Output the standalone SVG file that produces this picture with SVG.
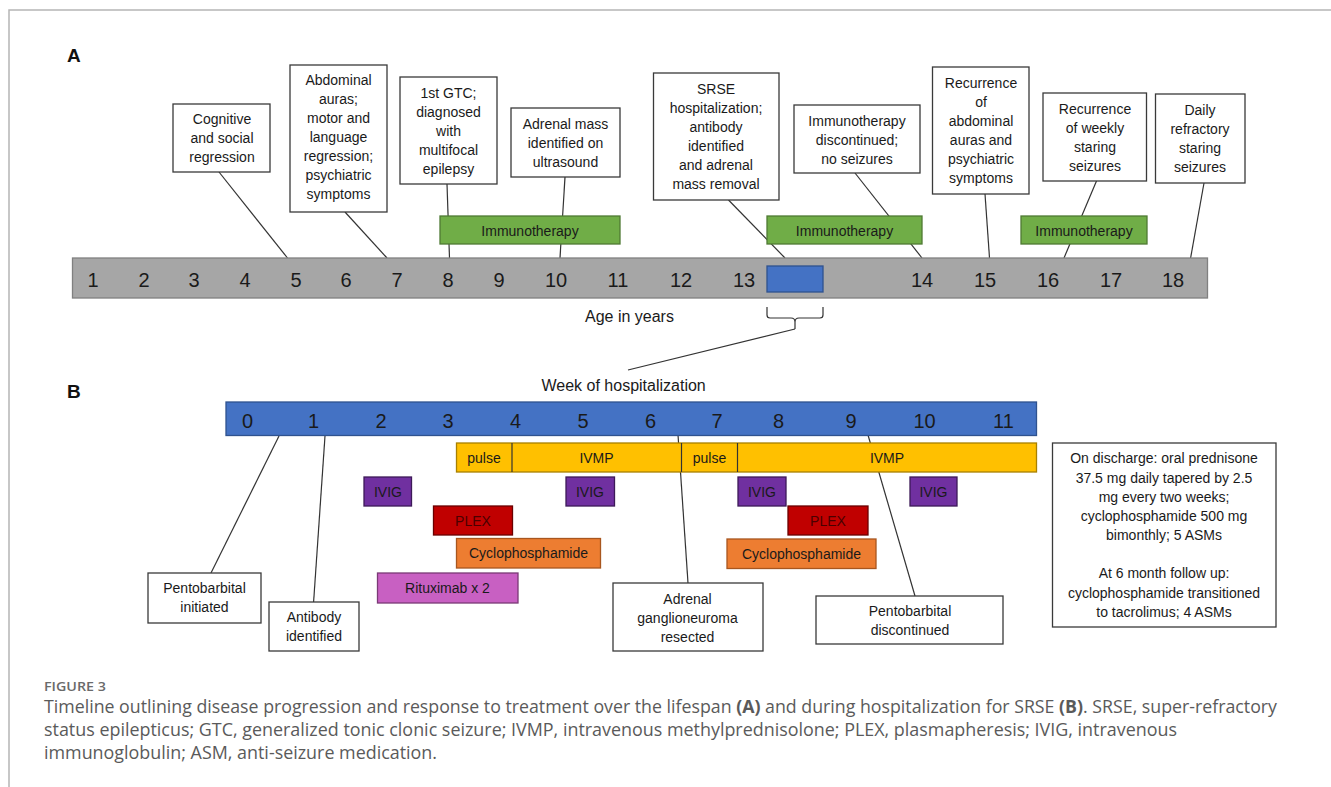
<svg xmlns="http://www.w3.org/2000/svg" width="1331" height="787" viewBox="0 0 1331 787">
<style>
  .bg{fill:#ffffff}
  .frame{stroke:#b5b5b5;stroke-width:1.5;fill:none}
  .lbl{font-family:"Liberation Sans",Arial,sans-serif;font-weight:bold;font-size:19px;fill:#111}
  .box{fill:#ffffff;stroke:#3a3a3a;stroke-width:1.3}
  .t{font-family:"Liberation Sans",Arial,sans-serif;font-size:14px;fill:#1a1a1a;text-anchor:middle}
  .num{font-family:"Liberation Sans",Arial,sans-serif;font-size:20px;fill:#1a1a1a;text-anchor:middle}
  .axis{font-family:"Liberation Sans",Arial,sans-serif;font-size:16px;fill:#1a1a1a}
  .conn{stroke:#333;stroke-width:1.2;fill:none}
  .gray{fill:#a6a6a6;stroke:#808080;stroke-width:1.3}
  .blue{fill:#4472c4;stroke:#2f528f;stroke-width:1.3}
  .green{fill:#70ad47;stroke:#4f7a34;stroke-width:1.3}
  .ivmp{fill:#ffc000;stroke:#a88000;stroke-width:1.3}
  .ivig{fill:#7030a0;stroke:#3d1a58;stroke-width:1.3}
  .plex{fill:#c00000;stroke:#6a0000;stroke-width:1.3}
  .cyc{fill:#ed7d31;stroke:#a8561f;stroke-width:1.3}
  .rit{fill:#c860c2;stroke:#7a3a76;stroke-width:1.3}
  .cap{font-family:"Open Sans","Liberation Sans",sans-serif;font-size:17.5px;fill:#5a5a5a}
  .fig{font-family:"Open Sans","Liberation Sans",sans-serif;font-size:13px;font-weight:600;fill:#6a6a6a}
</style>
<rect class="bg" x="0" y="0" width="1331" height="787"/>
<path class="frame" d="M9,787 V10 H1331"/>

<text class="lbl" x="67" y="62">A</text>
<text class="lbl" x="67" y="398">B</text>

<!-- connectors -->
<g id="connectors">
  <line class="conn" x1="219" y1="172" x2="287.5" y2="258"/>
  <line class="conn" x1="345" y1="212" x2="387" y2="258"/>
  <line class="conn" x1="447" y1="184" x2="449.5" y2="258"/>
  <line class="conn" x1="565" y1="177" x2="560" y2="258"/>
  <line class="conn" x1="728.5" y1="200" x2="785" y2="258"/>
  <line class="conn" x1="855" y1="173" x2="922" y2="258"/>
  <line class="conn" x1="985" y1="194" x2="989.5" y2="258"/>
  <line class="conn" x1="1096.5" y1="181" x2="1064" y2="258"/>
  <line class="conn" x1="1204" y1="183" x2="1190.6" y2="258"/>
  <path class="conn" d="M767,307 V315 Q767,318 770,318 H791 Q795,318 795,322 V329 M795,322 Q795,318 799,318 H820 Q823,318 823,315 V307"/>
  <line class="conn" x1="795" y1="329" x2="628" y2="370"/>
  <line class="conn" x1="211" y1="573" x2="279" y2="436"/>
  <line class="conn" x1="313.6" y1="602" x2="325" y2="436"/>
  <line class="conn" x1="688" y1="583" x2="678" y2="435"/>
  <line class="conn" x1="915" y1="596" x2="868" y2="435"/>
</g>

<!-- Timeline A -->
<g id="age-axis">
  <rect class="gray" x="72.5" y="258" width="1135" height="40"/>
  <g class="num">
    <text x="93" y="287">1</text><text x="144" y="287">2</text><text x="194" y="287">3</text>
    <text x="245" y="287">4</text><text x="296" y="287">5</text><text x="346" y="287">6</text>
    <text x="397" y="287">7</text><text x="448" y="287">8</text><text x="499" y="287">9</text>
    <text x="556" y="287">10</text><text x="618" y="287">11</text><text x="681" y="287">12</text>
    <text x="744" y="287">13</text><text x="922" y="287">14</text><text x="985" y="287">15</text>
    <text x="1048" y="287">16</text><text x="1111" y="287">17</text><text x="1173" y="287">18</text>
  </g>
  <rect class="blue" x="767" y="266" width="56" height="26"/>
  <text class="axis" x="585" y="322">Age in years</text>
</g>

<g id="immuno-1"><rect class="green" x="440" y="216" width="180" height="28"/><text class="t" x="530" y="236">Immunotherapy</text></g>
<g id="immuno-2"><rect class="green" x="767" y="216" width="155" height="28"/><text class="t" x="844.5" y="236">Immunotherapy</text></g>
<g id="immuno-3"><rect class="green" x="1021" y="216" width="126" height="28"/><text class="t" x="1084" y="236">Immunotherapy</text></g>

<g id="n-cognitive"><rect class="box" x="173" y="104" width="97" height="68"/>
  <text class="t"><tspan x="222" y="124">Cognitive</tspan><tspan x="222" y="143">and social</tspan><tspan x="222" y="162">regression</tspan></text></g>
<g id="n-abdominal"><rect class="box" x="290" y="65" width="97" height="147"/>
  <text class="t"><tspan x="338.5" y="85">Abdominal</tspan><tspan x="338.5" y="104">auras;</tspan><tspan x="338.5" y="123">motor and</tspan><tspan x="338.5" y="142">language</tspan><tspan x="338.5" y="161">regression;</tspan><tspan x="338.5" y="180">psychiatric</tspan><tspan x="338.5" y="199">symptoms</tspan></text></g>
<g id="n-gtc"><rect class="box" x="400" y="77" width="97" height="107"/>
  <text class="t"><tspan x="448.5" y="98">1st GTC;</tspan><tspan x="448.5" y="117">diagnosed</tspan><tspan x="448.5" y="136">with</tspan><tspan x="448.5" y="155">multifocal</tspan><tspan x="448.5" y="174">epilepsy</tspan></text></g>
<g id="n-adrenal-mass"><rect class="box" x="511" y="108" width="109" height="69"/>
  <text class="t"><tspan x="565.5" y="129">Adrenal mass</tspan><tspan x="565.5" y="148">identified on</tspan><tspan x="565.5" y="167">ultrasound</tspan></text></g>
<g id="n-srse"><rect class="box" x="653.5" y="73" width="125.5" height="127"/>
  <text class="t"><tspan x="716" y="94">SRSE</tspan><tspan x="716" y="113">hospitalization;</tspan><tspan x="716" y="132">antibody</tspan><tspan x="716" y="151">identified</tspan><tspan x="716" y="170">and adrenal</tspan><tspan x="716" y="189">mass removal</tspan></text></g>
<g id="n-discontinued"><rect class="box" x="794" y="105" width="126" height="68"/>
  <text class="t"><tspan x="857" y="126">Immunotherapy</tspan><tspan x="857" y="145">discontinued;</tspan><tspan x="857" y="164">no seizures</tspan></text></g>
<g id="n-recurrence-auras"><rect class="box" x="932.5" y="67" width="96.5" height="127"/>
  <text class="t"><tspan x="981" y="88">Recurrence</tspan><tspan x="981" y="107">of</tspan><tspan x="981" y="126">abdominal</tspan><tspan x="981" y="145">auras and</tspan><tspan x="981" y="164">psychiatric</tspan><tspan x="981" y="183">symptoms</tspan></text></g>
<g id="n-recurrence-weekly"><rect class="box" x="1043" y="93" width="103.5" height="88"/>
  <text class="t"><tspan x="1095" y="114">Recurrence</tspan><tspan x="1095" y="133">of weekly</tspan><tspan x="1095" y="152">staring</tspan><tspan x="1095" y="171">seizures</tspan></text></g>
<g id="n-daily"><rect class="box" x="1155.5" y="94" width="89.5" height="89"/>
  <text class="t"><tspan x="1200" y="115">Daily</tspan><tspan x="1200" y="134">refractory</tspan><tspan x="1200" y="153">staring</tspan><tspan x="1200" y="172">seizures</tspan></text></g>

<!-- Timeline B -->
<g id="week-axis">
  <text class="axis" x="541.5" y="391">Week of hospitalization</text>
  <rect class="blue" x="226" y="402" width="810.5" height="33.5"/>
  <g class="num">
    <text x="247.5" y="428">0</text><text x="313.5" y="428">1</text><text x="381" y="428">2</text>
    <text x="448" y="428">3</text><text x="515.5" y="428">4</text><text x="583" y="428">5</text>
    <text x="650.5" y="428">6</text><text x="717" y="428">7</text><text x="778.5" y="428">8</text>
    <text x="851" y="428">9</text><text x="924.5" y="428">10</text><text x="1003.5" y="428">11</text>
  </g>
</g>

<g id="ivmp">
  <rect class="ivmp" x="456.5" y="443" width="580" height="29"/>
  <line class="conn" x1="512" y1="443" x2="512" y2="472"/>
  <line class="conn" x1="681.5" y1="443" x2="681.5" y2="472"/>
  <line class="conn" x1="737.5" y1="443" x2="737.5" y2="472"/>
  <text class="t" x="484" y="463">pulse</text>
  <text class="t" x="596.5" y="463">IVMP</text>
  <text class="t" x="709.5" y="463">pulse</text>
  <text class="t" x="887" y="463">IVMP</text>
</g>

<g id="ivig-1"><rect class="ivig" x="364" y="477" width="47.5" height="29"/><text class="t" x="388" y="496.5">IVIG</text></g>
<g id="ivig-2"><rect class="ivig" x="566" y="477" width="48.5" height="29"/><text class="t" x="590" y="496.5">IVIG</text></g>
<g id="ivig-3"><rect class="ivig" x="738" y="477" width="48" height="29"/><text class="t" x="762" y="496.5">IVIG</text></g>
<g id="ivig-4"><rect class="ivig" x="910" y="477" width="47" height="29"/><text class="t" x="933.5" y="496.5">IVIG</text></g>

<g id="plex-1"><rect class="plex" x="433.5" y="506" width="79" height="29"/><text class="t" x="473" y="525.5" style="fill:#4a0000">PLEX</text></g>
<g id="plex-2"><rect class="plex" x="788" y="506" width="80" height="29"/><text class="t" x="828" y="525.5" style="fill:#4a0000">PLEX</text></g>

<g id="cyclo-1"><rect class="cyc" x="456.5" y="538.5" width="144" height="29.5"/><text class="t" x="528.5" y="558">Cyclophosphamide</text></g>
<g id="cyclo-2"><rect class="cyc" x="727" y="539" width="149" height="29.5"/><text class="t" x="801.5" y="558.5">Cyclophosphamide</text></g>

<g id="rituximab"><rect class="rit" x="377.5" y="573" width="140.5" height="30"/><text class="t" x="447.5" y="593">Rituximab x 2</text></g>

<g id="n-pento-init"><rect class="box" x="148" y="573" width="113" height="50"/>
  <text class="t"><tspan x="204.5" y="593">Pentobarbital</tspan><tspan x="204.5" y="612">initiated</tspan></text></g>
<g id="n-antibody"><rect class="box" x="269" y="602" width="90" height="49"/>
  <text class="t"><tspan x="314" y="622">Antibody</tspan><tspan x="314" y="641">identified</tspan></text></g>
<g id="n-ganglioneuroma"><rect class="box" x="613" y="583" width="150" height="68"/>
  <text class="t"><tspan x="687.5" y="604">Adrenal</tspan><tspan x="687.5" y="623">ganglioneuroma</tspan><tspan x="687.5" y="642">resected</tspan></text></g>
<g id="n-pento-disc"><rect class="box" x="816" y="596" width="187" height="48"/>
  <text class="t"><tspan x="910" y="616">Pentobarbital</tspan><tspan x="910" y="635">discontinued</tspan></text></g>
<g id="n-discharge"><rect class="box" x="1052.5" y="443" width="223.5" height="184"/>
  <text class="t"><tspan x="1164" y="463">On discharge: oral prednisone</tspan><tspan x="1164" y="482.5">37.5 mg daily tapered by 2.5</tspan><tspan x="1164" y="501.5">mg every two weeks;</tspan><tspan x="1164" y="520.5">cyclophosphamide 500 mg</tspan><tspan x="1164" y="539.5">bimonthly; 5 ASMs</tspan><tspan x="1164" y="578">At 6 month follow up:</tspan><tspan x="1164" y="597.5">cyclophosphamide transitioned</tspan><tspan x="1164" y="616.5">to tacrolimus; 4 ASMs</tspan></text></g>

<!-- caption -->
<text class="fig" x="44" y="691" textLength="62" lengthAdjust="spacingAndGlyphs">FIGURE 3</text>
<text class="cap" x="44" y="713" textLength="1233" lengthAdjust="spacingAndGlyphs">Timeline outlining disease progression and response to treatment over the lifespan <tspan font-weight="bold">(A)</tspan> and during hospitalization for SRSE <tspan font-weight="bold">(B)</tspan>. SRSE, super-refractory</text>
<text class="cap" x="44" y="736" textLength="1133" lengthAdjust="spacingAndGlyphs">status epilepticus; GTC, generalized tonic clonic seizure; IVMP, intravenous methylprednisolone; PLEX, plasmapheresis; IVIG, intravenous</text>
<text class="cap" x="44" y="759" textLength="393" lengthAdjust="spacingAndGlyphs">immunoglobulin; ASM, anti-seizure medication.</text>
</svg>
